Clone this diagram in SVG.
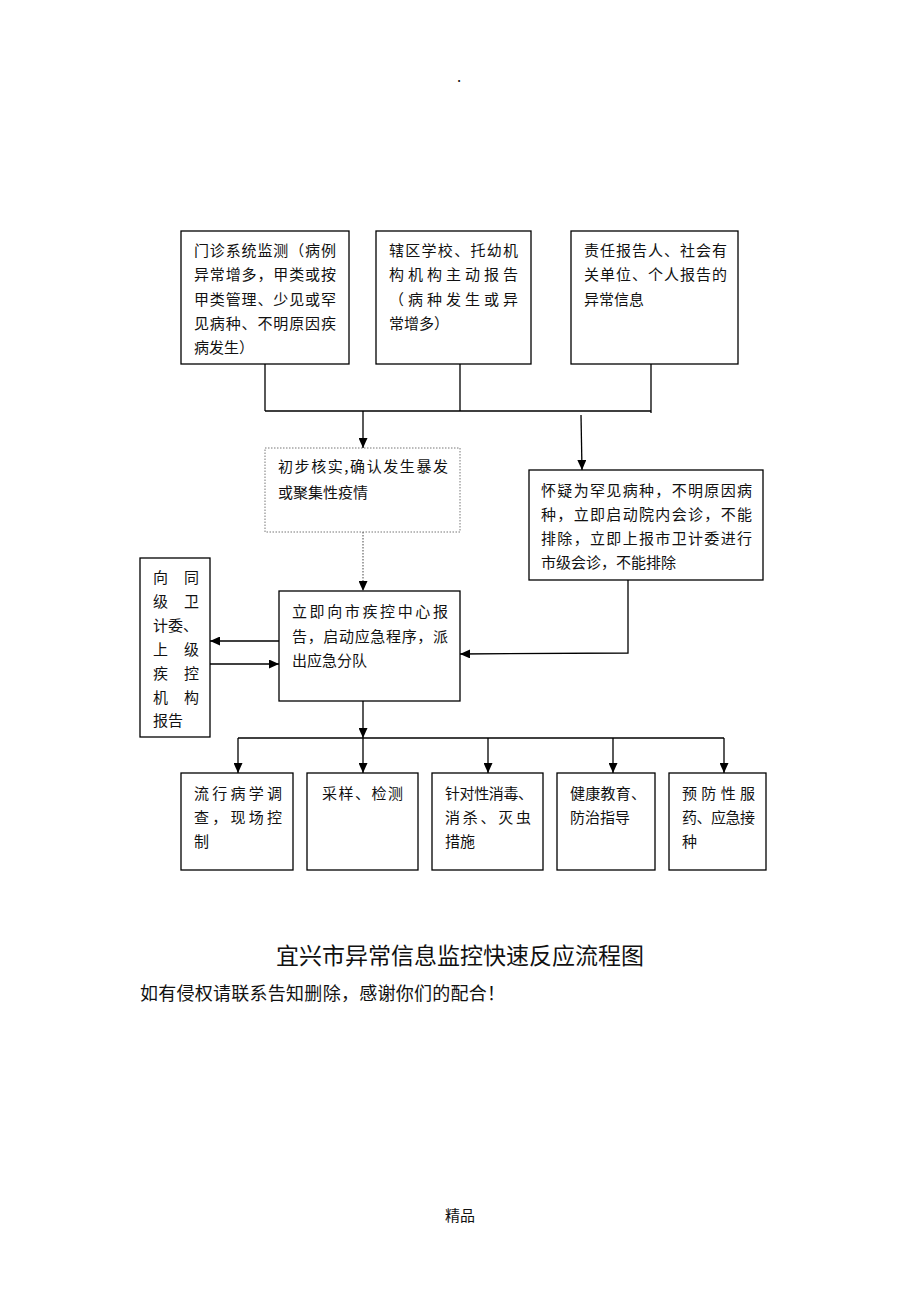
<svg xmlns="http://www.w3.org/2000/svg" width="920" height="1302" viewBox="0 0 920 1302">
<style>
.box{fill:#fff;stroke:#000;stroke-width:1.3}
.dbox{fill:#fff;stroke:#777;stroke-width:1;stroke-dasharray:1.5 1.5}
.t{font-family:"Noto Sans CJK SC","Noto Sans",sans-serif;font-size:15px;fill:#111}
.title{font-family:"Noto Sans CJK SC","Noto Sans",sans-serif;font-size:23px;fill:#111}
.sub{font-family:"Noto Sans CJK SC","Noto Sans",sans-serif;font-size:18px;fill:#111}
.ln{stroke:#000;stroke-width:1.3;fill:none}
.dl{stroke:#666;stroke-width:1.2;fill:none;stroke-dasharray:1.5 1.5}
</style>
<defs>
<marker id="ah" markerUnits="userSpaceOnUse" markerWidth="10" markerHeight="9" refX="10" refY="4.5" orient="auto">
<path d="M0,0 L10,4.5 L0,9 z" fill="#000"/>
</marker>
</defs>
<rect width="920" height="1302" fill="#fff"/>
<text x="459" y="82" class="t" text-anchor="middle">.</text>

<g id="n1"><rect class="box" x="181" y="231" width="168" height="133"/>
<text class="t"><tspan x="194" y="256" textLength="142" lengthAdjust="spacing">门诊系统监测（病例</tspan><tspan x="194" y="280" textLength="142" lengthAdjust="spacing">异常增多，甲类或按</tspan><tspan x="194" y="305" textLength="142" lengthAdjust="spacing">甲类管理、少见或罕</tspan><tspan x="194" y="329" textLength="142" lengthAdjust="spacing">见病种、不明原因疾</tspan><tspan x="194" y="353">病发生）</tspan></text></g>

<g id="n2"><rect class="box" x="376" y="231" width="155" height="133"/>
<text class="t"><tspan x="389" y="256" textLength="129" lengthAdjust="spacing">辖区学校、托幼机</tspan><tspan x="389" y="280" textLength="129" lengthAdjust="spacing">构机构主动报告</tspan><tspan x="389" y="305" textLength="129" lengthAdjust="spacing">（病种发生或异</tspan><tspan x="389" y="329">常增多）</tspan></text></g>

<g id="n3"><rect class="box" x="571" y="231" width="167" height="133"/>
<text class="t"><tspan x="584" y="256" textLength="143" lengthAdjust="spacing">责任报告人、社会有</tspan><tspan x="584" y="280" textLength="143" lengthAdjust="spacing">关单位、个人报告的</tspan><tspan x="584" y="305">异常信息</tspan></text></g>

<g id="n4"><rect class="dbox" x="265" y="448" width="195" height="84"/>
<text class="t"><tspan x="278" y="472" textLength="170" lengthAdjust="spacing">初步核实,确认发生暴发</tspan><tspan x="278" y="498">或聚集性疫情</tspan></text></g>

<g id="n5"><rect class="box" x="529" y="470" width="234" height="110"/>
<text class="t"><tspan x="541" y="496" textLength="211" lengthAdjust="spacing">怀疑为罕见病种，不明原因病</tspan><tspan x="541" y="520" textLength="211" lengthAdjust="spacing">种，立即启动院内会诊，不能</tspan><tspan x="541" y="544" textLength="211" lengthAdjust="spacing">排除，立即上报市卫计委进行</tspan><tspan x="541" y="568">市级会诊，不能排除</tspan></text></g>

<g id="n6"><rect class="box" x="279" y="591" width="181" height="110"/>
<text class="t"><tspan x="292" y="617" textLength="156" lengthAdjust="spacing">立即向市疾控中心报</tspan><tspan x="292" y="642" textLength="156" lengthAdjust="spacing">告，启动应急程序，派</tspan><tspan x="292" y="666">出应急分队</tspan></text></g>

<g id="n7"><rect class="box" x="140" y="558" width="70" height="179"/>
<text class="t"><tspan x="153" y="583" textLength="46" lengthAdjust="spacing">向 同</tspan><tspan x="153" y="607" textLength="46" lengthAdjust="spacing">级 卫</tspan><tspan x="153" y="631">计委、</tspan><tspan x="153" y="655" textLength="46" lengthAdjust="spacing">上 级</tspan><tspan x="153" y="679" textLength="46" lengthAdjust="spacing">疾 控</tspan><tspan x="153" y="703" textLength="46" lengthAdjust="spacing">机 构</tspan><tspan x="153" y="726">报告</tspan></text></g>

<g id="b1"><rect class="box" x="181" y="773" width="112" height="97"/>
<text class="t"><tspan x="194" y="799" textLength="88" lengthAdjust="spacing">流行病学调</tspan><tspan x="194" y="823" textLength="88" lengthAdjust="spacing">查，现场控</tspan><tspan x="194" y="847">制</tspan></text></g>

<g id="b2"><rect class="box" x="307" y="773" width="111" height="97"/>
<text class="t"><tspan x="322" y="799" textLength="81" lengthAdjust="spacing">采样、检测</tspan></text></g>

<g id="b3"><rect class="box" x="432" y="773" width="111" height="97"/>
<text class="t"><tspan x="445" y="799" textLength="88" lengthAdjust="spacing">针对性消毒、</tspan><tspan x="445" y="823" textLength="86" lengthAdjust="spacing">消杀、灭虫</tspan><tspan x="445" y="847">措施</tspan></text></g>

<g id="b4"><rect class="box" x="557" y="773" width="98" height="97"/>
<text class="t"><tspan x="570" y="799" textLength="76" lengthAdjust="spacing">健康教育、</tspan><tspan x="570" y="823">防治指导</tspan></text></g>

<g id="b5"><rect class="box" x="669" y="773" width="97" height="97"/>
<text class="t"><tspan x="682" y="799" textLength="73" lengthAdjust="spacing">预防性服</tspan><tspan x="682" y="823" textLength="73" lengthAdjust="spacing">药、应急接</tspan><tspan x="682" y="847">种</tspan></text></g>

<g id="connectors">
<path class="ln" d="M265,364 V411 M460,364 V411 M651,364 V413 M265,411 H651"/>
<path class="ln" d="M363,411 V448" marker-end="url(#ah)"/>
<path class="ln" d="M581,415 L582,470" marker-end="url(#ah)"/>
<path class="dl" d="M363,532 V591" marker-end="url(#ah)"/>
<path class="ln" d="M279,641 H210" marker-end="url(#ah)"/>
<path class="ln" d="M210,664 H279" marker-end="url(#ah)"/>
<path class="ln" d="M628,580 V653 L460,654" marker-end="url(#ah)"/>
<path class="ln" d="M363,701 V738" marker-end="url(#ah)"/>
<path class="ln" d="M238,738 H724"/>
<path class="ln" d="M238,738 V773" marker-end="url(#ah)"/>
<path class="ln" d="M363,738 V773" marker-end="url(#ah)"/>
<path class="ln" d="M488,738 V773" marker-end="url(#ah)"/>
<path class="ln" d="M613,738 V773" marker-end="url(#ah)"/>
<path class="ln" d="M724,738 V773" marker-end="url(#ah)"/>
</g>

<text class="title" x="276" y="964" textLength="368" lengthAdjust="spacing">宜兴市异常信息监控快速反应流程图</text>
<text class="sub" x="140" y="1000" textLength="365" lengthAdjust="spacing">如有侵权请联系告知删除，感谢你们的配合！</text>
<text class="t" x="460" y="1221" text-anchor="middle">精品</text>
</svg>
